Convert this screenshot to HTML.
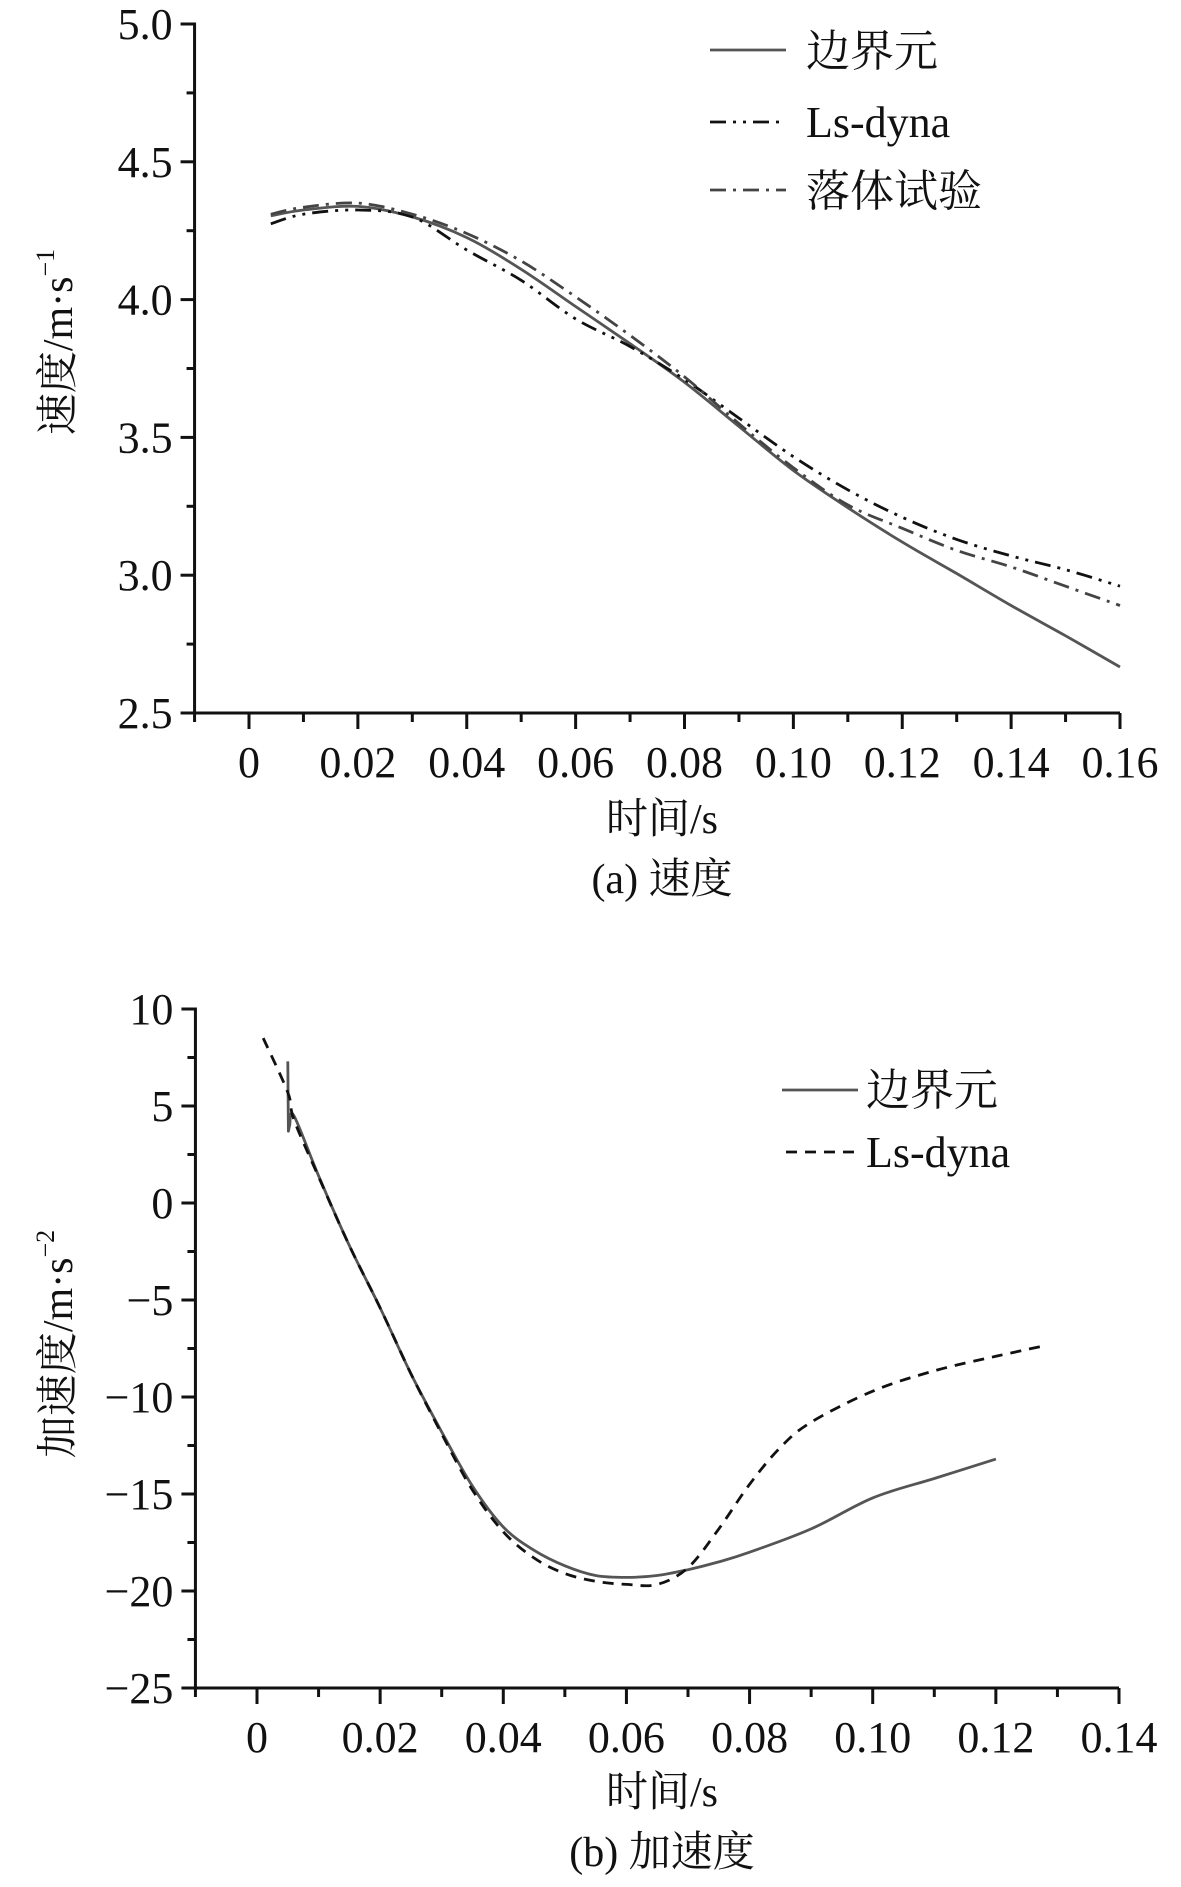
<!DOCTYPE html>
<html><head><meta charset="utf-8"><style>
html,body{margin:0;padding:0;background:#fff}
svg{display:block}
svg text{font-family:"Liberation Serif","Noto Serif CJK SC",serif;fill:#111}
</style></head><body>
<svg id="fig" width="1181" height="1887" viewBox="0 0 1181 1887" xmlns="http://www.w3.org/2000/svg"></svg>
<script>
// ---- chart (a) velocity data ----
const velX = [0.004,0.01,0.02,0.03,0.04,0.05,0.06,0.07,0.08,0.09,0.10,0.11,0.12,0.13,0.14,0.15,0.16];
const velBem = [4.304,4.325,4.338,4.30,4.225,4.11,3.975,3.84,3.70,3.54,3.38,3.245,3.12,3.006,2.89,2.78,2.667];
const velDyna = [4.275,4.31,4.325,4.30,4.18,4.07,3.93,3.83,3.71,3.57,3.43,3.31,3.21,3.13,3.07,3.02,2.96];
const velTest = [4.31,4.335,4.35,4.31,4.24,4.14,4.01,3.87,3.72,3.55,3.39,3.255,3.17,3.09,3.03,2.96,2.89];
const velXTicks = ["0","0.02","0.04","0.06","0.08","0.10","0.12","0.14","0.16"];
const velYTicks = ["2.5","3.0","3.5","4.0","4.5","5.0"];
// ---- chart (b) acceleration data ----
const accBemX = [0.005,0.0051,0.0053,0.006,0.01,0.015,0.02,0.025,0.03,0.035,0.04,0.045,0.05,0.055,0.06,0.065,0.07,0.075,0.08,0.09,0.10,0.11,0.12];
const accBem = [7.3,3.7,4.0,4.5,1.4,-2.2,-5.4,-8.8,-11.8,-14.6,-16.7,-17.9,-18.7,-19.2,-19.3,-19.2,-18.9,-18.5,-18.0,-16.8,-15.2,-14.2,-13.2];
const accDynaX = [0.001,0.005,0.006,0.01,0.015,0.02,0.025,0.03,0.035,0.04,0.045,0.05,0.055,0.06,0.065,0.07,0.075,0.08,0.085,0.09,0.10,0.11,0.12,0.128];
const accDyna = [8.5,5.7,4.3,1.35,-2.2,-5.4,-8.8,-11.9,-14.8,-16.95,-18.3,-19.1,-19.5,-19.66,-19.66,-18.8,-16.8,-14.5,-12.6,-11.3,-9.7,-8.65,-7.9,-7.35];
const accXTicks = ["0","0.02","0.04","0.06","0.08","0.10","0.12","0.14"];
const accYTicks = ["−25","−20","−15","−10","−5","0","5","10"];

const NS="http://www.w3.org/2000/svg";
const FONT='"Liberation Serif","Noto Serif CJK SC",serif';
const svg=document.getElementById('fig');
function mk(tag,attrs,parent){const e=document.createElementNS(NS,tag);for(const k in attrs)e.setAttribute(k,attrs[k]);(parent||svg).appendChild(e);return e;}
function smoothPath(pts){
  let d='M'+pts[0][0].toFixed(1)+','+pts[0][1].toFixed(1);
  for(let i=0;i<pts.length-1;i++){
    const p0=pts[Math.max(i-1,0)],p1=pts[i],p2=pts[i+1],p3=pts[Math.min(i+2,pts.length-1)];
    if(Math.abs(p2[0]-p1[0])<3){d+=' L'+p2[0].toFixed(1)+','+p2[1].toFixed(1);continue;}
    const c1=[p1[0]+(p2[0]-p0[0])/6,p1[1]+(p2[1]-p0[1])/6];
    const c2=[p2[0]-(p3[0]-p1[0])/6,p2[1]-(p3[1]-p1[1])/6];
    d+=` C${c1[0].toFixed(1)},${c1[1].toFixed(1)} ${c2[0].toFixed(1)},${c2[1].toFixed(1)} ${p2[0].toFixed(1)},${p2[1].toFixed(1)}`;
  }
  return d;
}

function chart(cfg){
  const g=mk('g',{});
  
  
  const sx=v=>cfg.px0+(v-cfg.x0)/(cfg.x1-cfg.x0)*(cfg.px1-cfg.px0);
  const sy=v=>cfg.py0+(v-cfg.y0)/(cfg.y1-cfg.y0)*(cfg.py1-cfg.py0);
  const ax=sx(cfg.xmin), ay=sy(cfg.y0), top=sy(cfg.y1), right=sx(cfg.x1);
  const axes=mk('path',{d:`M${ax-12},${top} L${ax},${top} L${ax},${ay} L${right},${ay}`,stroke:'#111','stroke-width':3,fill:'none'},g);
  
  
  const nx=Math.round((cfg.x1-cfg.xmin)/cfg.xminor);
  for(let i=0;i<=nx;i++){const v=cfg.xmin+i*cfg.xminor;const X=sx(v);
    const major=Math.abs(((v-cfg.x0)/cfg.xstep)-Math.round((v-cfg.x0)/cfg.xstep))<1e-6 && v>=cfg.x0-1e-9;
    mk('line',{x1:X,y1:ay,x2:X,y2:ay+(major?16:9),stroke:'#111','stroke-width':3},g);}
  cfg.xt.forEach((t,i)=>{const X=sx(cfg.x0+i*cfg.xstep);
    const e=mk('text',{x:X,y:ay+64,'font-size':44,'text-anchor':'middle','font-family':FONT},g);e.textContent=t;
    
    });
  const ny=Math.round((cfg.y1-cfg.y0)/cfg.yminor);
  for(let i=0;i<=ny;i++){const Y=sy(cfg.y0+i*cfg.yminor);const major=i%2===0;
    mk('line',{x1:ax-(major?14:8),y1:Y,x2:ax,y2:Y,stroke:'#111','stroke-width':3},g);}
  cfg.yt.forEach((t,i)=>{const Y=sy(cfg.y0+i*cfg.ystep);
    const e=mk('text',{x:ax-22,y:Y+15,'font-size':44,'text-anchor':'end','font-family':FONT},g);e.textContent=t;
    
    });
  cfg.series.forEach(s=>{
    const pts=s.x.map((v,i)=>[sx(v),sy(s.y[i])]);
    const p=mk('path',{d:smoothPath(pts),stroke:s.color,'stroke-width':2.8,fill:'none','stroke-dasharray':s.dash||'none','stroke-linejoin':'round'},g);
    
    
  });
}

chart({name:'velocity-chart',x0:0,x1:0.16,px0:249,px1:1120,xmin:-0.01,xstep:0.02,xminor:0.01,
  y0:2.5,y1:5.0,py0:713,py1:24,ystep:0.5,yminor:0.25,xt:velXTicks,yt:velYTicks,
  series:[
    {name:'series-bem',x:velX,y:velBem,color:'#555'},
    {name:'series-lsdyna',x:velX,y:velDyna,color:'#111',dash:'16,7,3,7,3,7'},
    {name:'series-drop-test',x:velX,y:velTest,color:'#444',dash:'16,7,3,7'}]});

chart({name:'acceleration-chart',x0:0,x1:0.14,px0:257,px1:1119,xmin:-0.01,xstep:0.02,xminor:0.01,
  y0:-25,y1:10,py0:1688,py1:1009,ystep:5,yminor:2.5,xt:accXTicks,yt:accYTicks,
  series:[
    {name:'series-bem',x:accBemX,y:accBem,color:'#555'},
    {name:'series-lsdyna',x:accDynaX,y:accDyna,color:'#111',dash:'11,8'}]});

function txt(x,y,s,size,name,anchor,rot){const e=mk('text',{x:x,y:y,'font-size':size,'text-anchor':anchor||'start','font-family':FONT});
  if(rot)e.setAttribute('transform',`rotate(-90 ${x} ${y})`);e.innerHTML=s;
  
  return e;}
function leg(x1,x2,y,color,dash,name){const l=mk('line',{x1:x1,y1:y,x2:x2,y2:y,stroke:color,'stroke-width':2.8,'stroke-dasharray':dash||'none'});
  
  }

leg(710,786,50,'#555','', 'legend-line-bem');
txt(806,66,'边界元',44,'legend-label-bem');
leg(710,786,122,'#111','16,7,3,7,3,7','legend-line-lsdyna');
txt(806,137,'Ls-dyna',44,'legend-label-lsdyna');
leg(710,786,190,'#444','16,7,3,7','legend-line-drop-test');
txt(806,206,'落体试验',44,'legend-label-drop-test');
txt(662,833,'时间/s',42,'x-axis-title','middle');
txt(662,893,'(a) 速度',42,'caption-a','middle');
txt(72,342,'速度/m·s<tspan font-size="26" dy="-18">−1</tspan>',42,'y-axis-title','middle',true);
leg(782,858,1090,'#555','','legend-line-bem');
txt(866,1105,'边界元',44,'legend-label-bem');
leg(786,858,1152,'#111','11,8','legend-line-lsdyna');
txt(866,1167,'Ls-dyna',44,'legend-label-lsdyna');
txt(662,1806,'时间/s',42,'x-axis-title','middle');
txt(662,1866,'(b) 加速度',42,'caption-b','middle');
txt(72,1344,'加速度/m·s<tspan font-size="26" dy="-18">−2</tspan>',42,'y-axis-title','middle',true);
</script>
</body></html>
